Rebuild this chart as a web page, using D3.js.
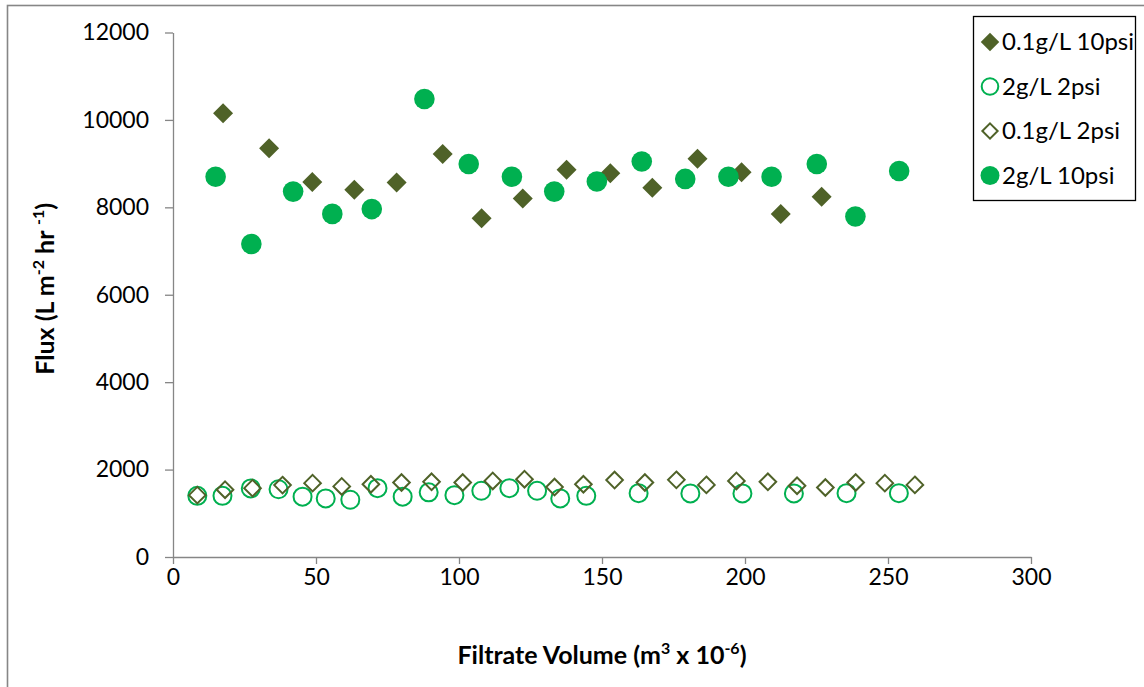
<!DOCTYPE html>
<html>
<head>
<meta charset="utf-8">
<script src="https://cdn.jsdelivr.net/npm/d3@7"></script>
<style>
	body { margin: 0; background: #fff; }
	text { font-family: Lato, 'Open Sans', sans-serif; fill: #000; }
</style>
</head>
<body>
<svg id="chart" width="1144" height="687"></svg>
<script>
// ------- DATA ------- //

const xTicks = [0, 50, 100, 150, 200, 250, 300]
const yTicks = [0, 2000, 4000, 6000, 8000, 10000, 12000]
const seriesNames = ['0.1g/L 10psi', '2g/L 2psi', '0.1g/L 2psi', '2g/L 10psi']

// 0.1g/L 10psi
const low10Volume = [17.5, 33.6, 48.7, 63.4, 78.2, 94.3, 107.9, 122.3, 137.6, 152.9, 167.6, 183.4, 198.8, 212.5, 226.8]
const low10Flux = [10150, 9350, 8580, 8400, 8570, 9220, 7750, 8200, 8860, 8780, 8450, 9110, 8800, 7850, 8240]

// 2g/L 2psi
const high2Volume = [8.5, 17.3, 27.2, 36.9, 45.3, 53.4, 62.0, 71.5, 80.3, 89.4, 98.4, 107.8, 117.6, 127.3, 135.4, 144.5, 162.8, 180.9, 199.1, 217.1, 235.5, 253.8]
const high2Flux = [1400, 1400, 1570, 1550, 1380, 1340, 1310, 1575, 1380, 1480, 1415, 1515, 1575, 1515, 1340, 1400, 1460, 1455, 1455, 1455, 1460, 1460]

// 0.1g/L 2psi
const low2Volume = [8.5, 18.2, 27.8, 38.3, 48.8, 59.0, 69.2, 79.9, 90.4, 101.3, 111.8, 122.9, 133.4, 143.5, 154.4, 165.0, 176.0, 186.5, 197.0, 208.0, 218.2, 228.1, 238.7, 248.9, 259.4]
const low2Flux = [1415, 1540, 1575, 1645, 1690, 1615, 1665, 1705, 1720, 1705, 1740, 1780, 1600, 1665, 1760, 1705, 1765, 1650, 1740, 1720, 1630, 1590, 1705, 1690, 1650]

// 2g/L 10psi
const high10Volume = [14.9, 27.4, 42.0, 55.7, 69.5, 87.9, 103.4, 118.5, 133.3, 148.2, 163.9, 179.1, 194.2, 209.3, 225.1, 238.6, 253.9]
const high10Flux = [8700, 7160, 8360, 7850, 7960, 10480, 8990, 8700, 8360, 8590, 9050, 8650, 8700, 8700, 8990, 7790, 8830]

// ------- LAYOUT ------- //

const plot = { left: 173, right: 1031, top: 32.5, bottom: 557 }
const axisColor = '#868686'
const olive = '#4f6228'
const green = '#00b050'

const svg = d3.select('#chart')

// outer chart frame (runs off the right / bottom of the picture)
svg.append('rect')
	.attr('x', 7.5)
	.attr('y', 5.5)
	.attr('width', 1200)
	.attr('height', 800)
	.attr('fill', 'none')
	.attr('stroke', axisColor)
	.attr('stroke-width', 1.6)

const x = d3.scaleLinear().domain([0, 300]).range([plot.left, plot.right])
const y = d3.scaleLinear().domain([0, 12000]).range([plot.bottom, plot.top])

// ------- AXES ------- //

const yAxis = svg.append('g')
	.attr('transform', `translate(${plot.left},0)`)
	.call(d3.axisLeft(y).tickValues(yTicks).tickFormat(d3.format('d')).tickSize(8).tickSizeOuter(0).tickPadding(16))

const xAxis = svg.append('g')
	.attr('transform', `translate(0,${plot.bottom})`)
	.call(d3.axisBottom(x).tickValues(xTicks).tickFormat(d3.format('d')).tickSize(7).tickSizeOuter(0).tickPadding(5))

;[xAxis, yAxis].forEach((g) => {
	g.select('.domain').attr('stroke', axisColor).attr('stroke-width', 1.3)
	g.selectAll('.tick line').attr('stroke', axisColor).attr('stroke-width', 1.3)
	g.selectAll('.tick text')
		.attr('fill', '#000')
		.style('font-family', 'Lato, sans-serif')
		.style('font-size', '23px')
})

// axis titles, with superscripts
const yTitle = svg.append('text')
	.attr('transform', `translate(54,${(plot.top + plot.bottom) / 2 - 6}) rotate(-90)`)
	.attr('text-anchor', 'middle')
	.style('font-size', '25px')
	.style('font-weight', 'bold')
yTitle.append('tspan').text('Flux (L m')
yTitle.append('tspan').attr('dy', -10).style('font-size', '16px').text('-2')
yTitle.append('tspan').attr('dy', 10).text(' hr ')
yTitle.append('tspan').attr('dy', -10).style('font-size', '16px').text('-1')
yTitle.append('tspan').attr('dy', 10).text(')')

const xTitle = svg.append('text')
	.attr('x', 602)
	.attr('y', 664)
	.attr('text-anchor', 'middle')
	.style('font-size', '25px')
	.style('font-weight', 'bold')
xTitle.append('tspan').text('Filtrate Volume (m')
xTitle.append('tspan').attr('dy', -10).style('font-size', '16px').text('3')
xTitle.append('tspan').attr('dy', 10).text(' x 10')
xTitle.append('tspan').attr('dy', -10).style('font-size', '16px').text('-6')
xTitle.append('tspan').attr('dy', 10).text(')')

// ------- SERIES ------- //

// diamond2 is a square turned 45deg, half-diagonal = sqrt(size) * 0.62625
const diamondSize = (halfDiag) => Math.pow(halfDiag / 0.62625, 2)
const circleSize = (r) => Math.PI * r * r

const styles = [
	{ type: d3.symbolDiamond2, size: diamondSize(10), fill: olive, stroke: 'none', sw: 0 },
	{ type: d3.symbolCircle, size: circleSize(9), fill: 'none', stroke: green, sw: 2 },
	{ type: d3.symbolDiamond2, size: diamondSize(8.3), fill: 'none', stroke: olive, sw: 2 },
	{ type: d3.symbolCircle, size: circleSize(10.3), fill: green, stroke: 'none', sw: 0 }
]

const series = [
	{ name: seriesNames[0], volume: low10Volume, flux: low10Flux },
	{ name: seriesNames[1], volume: high2Volume, flux: high2Flux },
	{ name: seriesNames[2], volume: low2Volume, flux: low2Flux },
	{ name: seriesNames[3], volume: high10Volume, flux: high10Flux }
]

series.forEach((s, i) => {
	const st = styles[i]
	const pts = s.volume.map((v, j) => ({ v: v, f: s.flux[j] }))
	svg.append('g')
		.selectAll('path')
		.data(pts)
		.enter().append('path')
			.attr('transform', (d) => `translate(${x(d.v)},${y(d.f)})`)
			.attr('d', d3.symbol().type(st.type).size(st.size))
			.attr('fill', st.fill)
			.attr('stroke', st.stroke)
			.attr('stroke-width', st.sw)
})

// ------- LEGEND ------- //

const legend = svg.append('g')
legend.append('rect')
	.attr('x', 973.5)
	.attr('y', 16.5)
	.attr('width', 162)
	.attr('height', 184)
	.attr('fill', '#fff')
	.attr('stroke', '#000')
	.attr('stroke-width', 1.3)

const rowY = (i) => 42 + i * 44.5
series.forEach((s, i) => {
	const st = styles[i]
	legend.append('path')
		.attr('transform', `translate(990,${rowY(i)})`)
		.attr('d', d3.symbol().type(st.type).size(st.size * 0.85))
		.attr('fill', st.fill)
		.attr('stroke', st.stroke)
		.attr('stroke-width', st.sw)
	legend.append('text')
		.attr('x', 1002)
		.attr('y', rowY(i))
		.attr('dy', '0.35em')
		.style('font-size', '24px')
		.text(s.name)
})
</script>
</body>
</html>
